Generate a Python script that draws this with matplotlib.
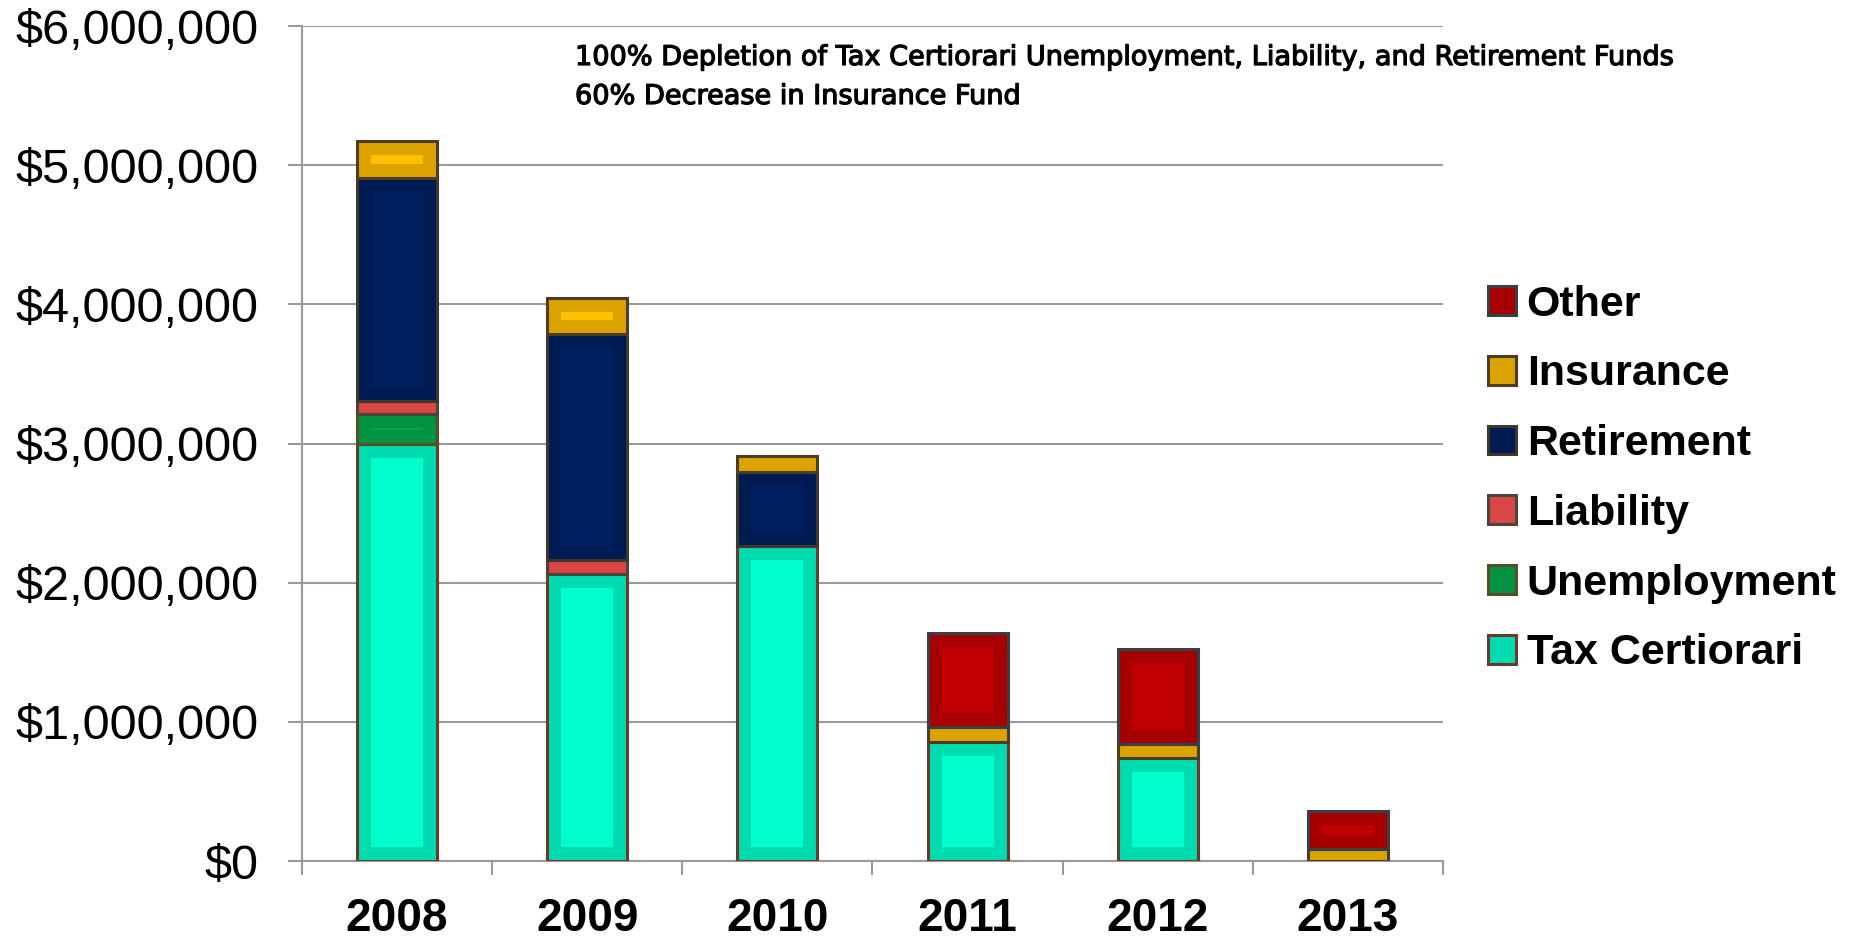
import matplotlib
matplotlib.use("Agg")
import matplotlib.pyplot as plt
import matplotlib.patheffects as pe
import numpy as np
from matplotlib.ticker import FuncFormatter, FixedLocator

years = ["2008", "2009", "2010", "2011", "2012", "2013"]
tax_certiorari = [3000000, 2065000, 2265000, 855000, 740000, 0]
unemployment = [210000, 0, 0, 0, 0, 0]
liability = [95000, 100000, 0, 0, 0, 0]
retirement = [1600000, 1620000, 530000, 0, 0, 0]
insurance = [270000, 260000, 113000, 108000, 100000, 84000]
other = [0, 0, 0, 676000, 682000, 276000]

series_names = ["Tax Certiorari", "Unemployment", "Liability", "Retirement", "Insurance", "Other"]
series_values = [tax_certiorari, unemployment, liability, retirement, insurance, other]
outer_colors = ["#00DCB0", "#009342", "#DA4646", "#001A52", "#DAA300", "#A60000"]
inner_colors = ["#00FFCC", "#00A84C", "#DA4646", "#002060", "#FFC000", "#C00000"]
edge_colors = ["#6B3A2C", "#5E4A25", "#4A463C", "#40362E", "#4E3D25", "#374046"]

annotation_lines = ["100% Depletion of Tax Certiorari Unemployment, Liability, and Retirement Funds",
                    "60% Decrease in Insurance Fund"]

W, H = 1856, 940
fig = plt.figure(figsize=(W / 100, H / 100), dpi=100)
ax = fig.add_axes([302 / W, 1 - 861 / H, (1443 - 302) / W, (861 - 26) / H])
ax.set_xlim(-0.5, len(years) - 0.5)
ax.set_ylim(0, 6000000)

# inset for inner highlight rectangles (14 px) in data units
inv = ax.transData.inverted()
p0 = inv.transform((0, 0))
p1 = inv.transform((14, 14))
dx = p1[0] - p0[0]
dy = p1[1] - p0[1]

bar_w = 0.42
x = np.arange(len(years))
bottom = np.zeros(len(years))
handles = []
for name, vals, oc, ic, ec in zip(series_names, series_values, outer_colors, inner_colors, edge_colors):
    vals = np.array(vals, dtype=float)
    m = vals > 0
    bc = ax.bar(x[m], vals[m], bar_w, bottom=bottom[m], color=oc, edgecolor=ec,
                linewidth=2.2, label=name, zorder=3)
    ih = vals[m] - 2 * dy
    mm = ih > 0
    ax.bar(x[m][mm], ih[mm], bar_w - 2 * dx, bottom=bottom[m][mm] + dy, color=ic,
           linewidth=0, zorder=4)
    handles.append(bc)
    bottom = bottom + vals

# axes styling
for s in ["top", "right"]:
    ax.spines[s].set_visible(False)
for s in ["left", "bottom"]:
    ax.spines[s].set_color("#9A9A9A")
    ax.spines[s].set_linewidth(1.5)
ax.yaxis.set_major_locator(FixedLocator(np.arange(0, 6000001, 1000000)))
ax.yaxis.set_major_formatter(FuncFormatter(lambda v, p: "${:,.0f}".format(v)))
ax.grid(axis="y", color="#9A9A9A", linewidth=1.5, zorder=0)
ax.set_axisbelow(True)
ax.tick_params(axis="y", length=10, width=1.5, color="#9A9A9A", pad=21, labelsize=35)
for lab in ax.get_yticklabels():
    lab.set_fontfamily("Liberation Sans")

ax.set_xticks(x)
ax.set_xticklabels(years, fontfamily="Liberation Sans", fontweight="bold", fontsize=33)
ax.set_xticks(np.arange(-0.5, len(years), 1.0), minor=True)
ax.tick_params(axis="x", which="major", length=0, pad=26)
ax.tick_params(axis="x", which="minor", length=10, width=1.5, color="#9A9A9A")

# legend
leg = ax.legend(handles=handles[::-1], loc="center left",
                bbox_to_anchor=(1488 / W, 1 - 479 / H), bbox_transform=fig.transFigure,
                frameon=False, borderpad=0, borderaxespad=0,
                handlelength=0.65, handleheight=0.65, handletextpad=0.25, labelspacing=0.69,
                prop=dict(family="Liberation Sans", weight="bold", size=31))

# annotation (font size fitted so the first line spans the same width as the reference)
target_w = 1100
fs = 17
renderer = fig.canvas.get_renderer()
stroke = [pe.withStroke(linewidth=0.9, foreground="black")]
t1 = fig.text(575 / W, 1 - 58 / H, annotation_lines[0], fontfamily="DejaVu Sans",
              fontweight="normal", fontsize=fs, va="center", ha="left", path_effects=stroke)
w = t1.get_window_extent(renderer).width
fs = fs * target_w / w
t1.set_fontsize(fs)
fig.text(575 / W, 1 - 97 / H, annotation_lines[1], fontfamily="DejaVu Sans",
         fontweight="normal", fontsize=fs, va="center", ha="left", path_effects=stroke)

fig.savefig("out.png", dpi=100)
